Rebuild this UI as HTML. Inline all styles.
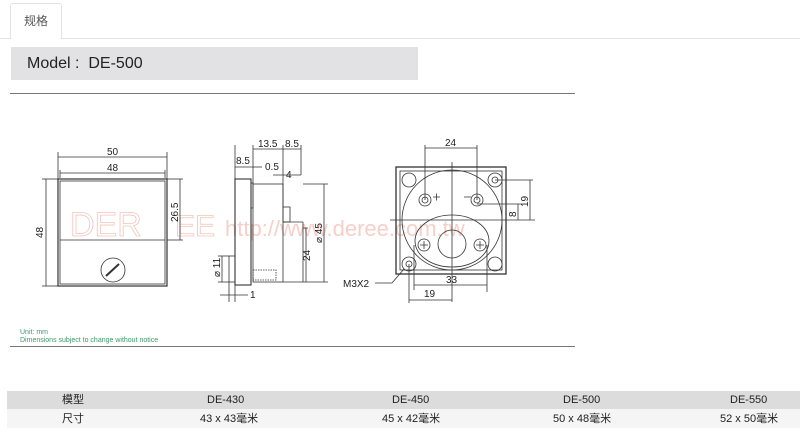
<!DOCTYPE html>
<html><head><meta charset="utf-8"><style>
body{margin:0;width:800px;height:434px;background:#fff;position:relative;overflow:hidden;font-family:"Liberation Sans","Noto Sans CJK SC",sans-serif}
.a{position:absolute}
</style></head><body>
<div class="a" style="left:0;top:38px;width:800px;height:1px;background:#e4e4e4"></div>
<div class="a" style="left:10px;top:3px;width:50px;height:35px;border:1px solid #e4e4e4;border-bottom:none;border-radius:3px 3px 0 0;background:#fff;font-size:12px;color:#555;line-height:35px;text-align:center">规格</div>
<div class="a" style="left:11px;top:47px;width:407px;height:33px;background:#e2e2e4;font-size:16px;color:#222;line-height:33px;padding-left:16px;box-sizing:border-box">Model :&nbsp; DE-500</div>
<div class="a" style="left:10px;top:93px;width:565px;height:1px;background:#777"></div>
<div class="a" style="left:10px;top:346px;width:565px;height:1px;background:#777"></div>
<svg class="a" style="left:0;top:0" width="800" height="434" font-family="Liberation Sans, sans-serif" font-size="9" fill="none" stroke="#333" stroke-width="0.8">
<g fill="#f5d0c8" stroke="none" font-size="30"><text x="70" y="236" font-size="34" fill="none" stroke="#f2c4ba">DER</text><text x="175" y="236" fill="none" stroke="#f2c4ba">EE</text><text x="225" y="236" font-size="22">http://www.deree.com.tw</text></g>
<!-- front -->
<rect x="58" y="179" width="109" height="107" stroke-width="1.2"/>
<rect x="60" y="181" width="105" height="103"/>
<line x1="60" y1="240" x2="165" y2="240"/>
<circle cx="113" cy="270" r="12"/><line x1="106" y1="276" x2="119" y2="264" stroke-width="2"/>
<line x1="58" y1="152" x2="58" y2="179"/><line x1="167" y1="152" x2="167" y2="179"/>
<line x1="58" y1="157" x2="167" y2="157"/><line x1="60" y1="170" x2="60" y2="178"/><line x1="165" y1="170" x2="165" y2="178"/><line x1="60" y1="173" x2="165" y2="173"/>
<line x1="42" y1="179" x2="58" y2="179"/><line x1="42" y1="286" x2="58" y2="286"/><line x1="46" y1="179" x2="46" y2="286"/>
<line x1="167" y1="179" x2="183" y2="179"/><line x1="167" y1="240" x2="183" y2="240"/><line x1="180" y1="179" x2="180" y2="240"/>
<g fill="#222" stroke="none" font-size="10"><text x="107" y="155">50</text><text x="107" y="171">48</text>
<text transform="translate(43,238) rotate(-90)">48</text><text transform="translate(178,222) rotate(-90)">26.5</text></g>
<!-- side -->
<rect x="235" y="179" width="16" height="106" stroke-width="1.1"/>
<rect x="251" y="183" width="2" height="25"/>
<rect x="253" y="184" width="30" height="98"/>
<rect x="283" y="207" width="7" height="15"/>
<line x1="283" y1="222" x2="303" y2="222"/><line x1="303" y1="222" x2="303" y2="282"/><line x1="283" y1="282" x2="303" y2="282"/>
<rect x="229" y="256" width="6" height="26"/>
<rect x="253" y="270" width="23" height="10" stroke-dasharray="1.5,1"/>
<line x1="235" y1="145" x2="235" y2="179"/><line x1="253" y1="145" x2="253" y2="184"/><line x1="283" y1="145" x2="283" y2="207"/><line x1="301" y1="145" x2="301" y2="175"/>
<line x1="253" y1="149" x2="301" y2="149"/><line x1="235" y1="167" x2="253" y2="167"/>
<line x1="253" y1="167" x2="262" y2="167"/><line x1="273" y1="175" x2="301" y2="175"/>
<line x1="303" y1="184" x2="328" y2="184"/><line x1="324" y1="184" x2="324" y2="282"/><line x1="303" y1="282" x2="328" y2="282"/>
<line x1="303" y1="228" x2="308" y2="228"/><line x1="306" y1="228" x2="306" y2="282"/>
<line x1="218" y1="256" x2="229" y2="256"/><line x1="218" y1="282" x2="229" y2="282"/><line x1="222" y1="256" x2="222" y2="282"/>
<line x1="229" y1="282" x2="229" y2="302"/><line x1="235" y1="285" x2="235" y2="302"/><line x1="220" y1="295" x2="248" y2="295"/>
<g fill="#222" stroke="none" font-size="10"><text x="258" y="147">13.5</text><text x="285" y="147">8.5</text><text x="236" y="164">8.5</text>
<text x="265" y="170">0.5</text><text x="286" y="178">4</text><text x="250" y="298">1</text>
<text transform="translate(322,243) rotate(-90)">⌀ 45</text><text transform="translate(310,261) rotate(-90)">24</text><text transform="translate(220,277) rotate(-90)">⌀ 11</text></g>
<!-- rear -->
<rect x="396" y="167" width="110" height="107" stroke-width="1.3"/>
<rect x="400" y="171" width="102" height="99"/>
<circle cx="452" cy="220" r="50"/>
<ellipse cx="452" cy="241" rx="37" ry="26"/>
<circle cx="452" cy="244" r="14"/>
<circle cx="409" cy="180" r="7"/><circle cx="495" cy="180" r="7"/><circle cx="495" cy="180" r="3"/>
<circle cx="409" cy="264" r="7"/><circle cx="409" cy="264" r="3"/><circle cx="495" cy="264" r="7"/>
<circle cx="425" cy="200" r="6"/><circle cx="425" cy="200" r="3"/><circle cx="477" cy="200" r="6"/><circle cx="477" cy="200" r="3"/>
<circle cx="424" cy="245" r="6"/><circle cx="480" cy="245" r="6"/>
<path d="M420 245h8M424 241v8M476 245h8M480 241v8"/>
<path d="M433 197h7M436.5 193.5v7M464 197h7"/>
<line x1="452" y1="162" x2="452" y2="302"/><line x1="390" y1="220" x2="535" y2="220"/>
<line x1="425" y1="145" x2="425" y2="200"/><line x1="477" y1="145" x2="477" y2="200"/><line x1="425" y1="148" x2="477" y2="148"/>
<line x1="495" y1="180" x2="533" y2="180"/><line x1="530" y1="180" x2="530" y2="220"/>
<line x1="477" y1="204" x2="521" y2="204"/><line x1="518" y1="204" x2="518" y2="220"/>
<line x1="414" y1="245" x2="414" y2="290"/><line x1="487" y1="245" x2="487" y2="292"/><line x1="414" y1="285" x2="487" y2="285"/>
<line x1="409" y1="264" x2="409" y2="303"/><line x1="409" y1="300" x2="452" y2="300"/>
<path d="M375 283h17l12-14"/>
<g fill="#222" stroke="none" font-size="10"><text x="445" y="146">24</text><text x="446" y="283">33</text><text x="424" y="297">19</text><text x="343" y="287">M3X2</text>
<text transform="translate(528,207) rotate(-90)">19</text><text transform="translate(516,217) rotate(-90)">8</text></g>
</svg>
<div class="a" style="left:20px;top:329px;font-size:7px;color:#3a9a6a;line-height:8px">Unit: mm<br>Dimensions subject to change without notice</div>
<div class="a" style="left:7px;top:391px;width:793px;height:18px;background:#dcdcdc"></div>
<div class="a" style="left:7px;top:409px;width:793px;height:19px;background:#f5f5f5"></div>
<div class="a" style="left:0;top:391px;width:800px;font-size:11px;color:#222;line-height:18px">
<span class="a" style="left:62px">模型</span><span class="a" style="left:207px">DE-430</span><span class="a" style="left:392px">DE-450</span><span class="a" style="left:563px">DE-500</span><span class="a" style="left:730px">DE-550</span>
<span class="a" style="left:62px;top:19px">尺寸</span><span class="a" style="left:200px;top:19px">43 x 43毫米</span><span class="a" style="left:382px;top:19px">45 x 42毫米</span><span class="a" style="left:553px;top:19px">50 x 48毫米</span><span class="a" style="left:720px;top:19px">52 x 50毫米</span>
</div>
</body></html>
